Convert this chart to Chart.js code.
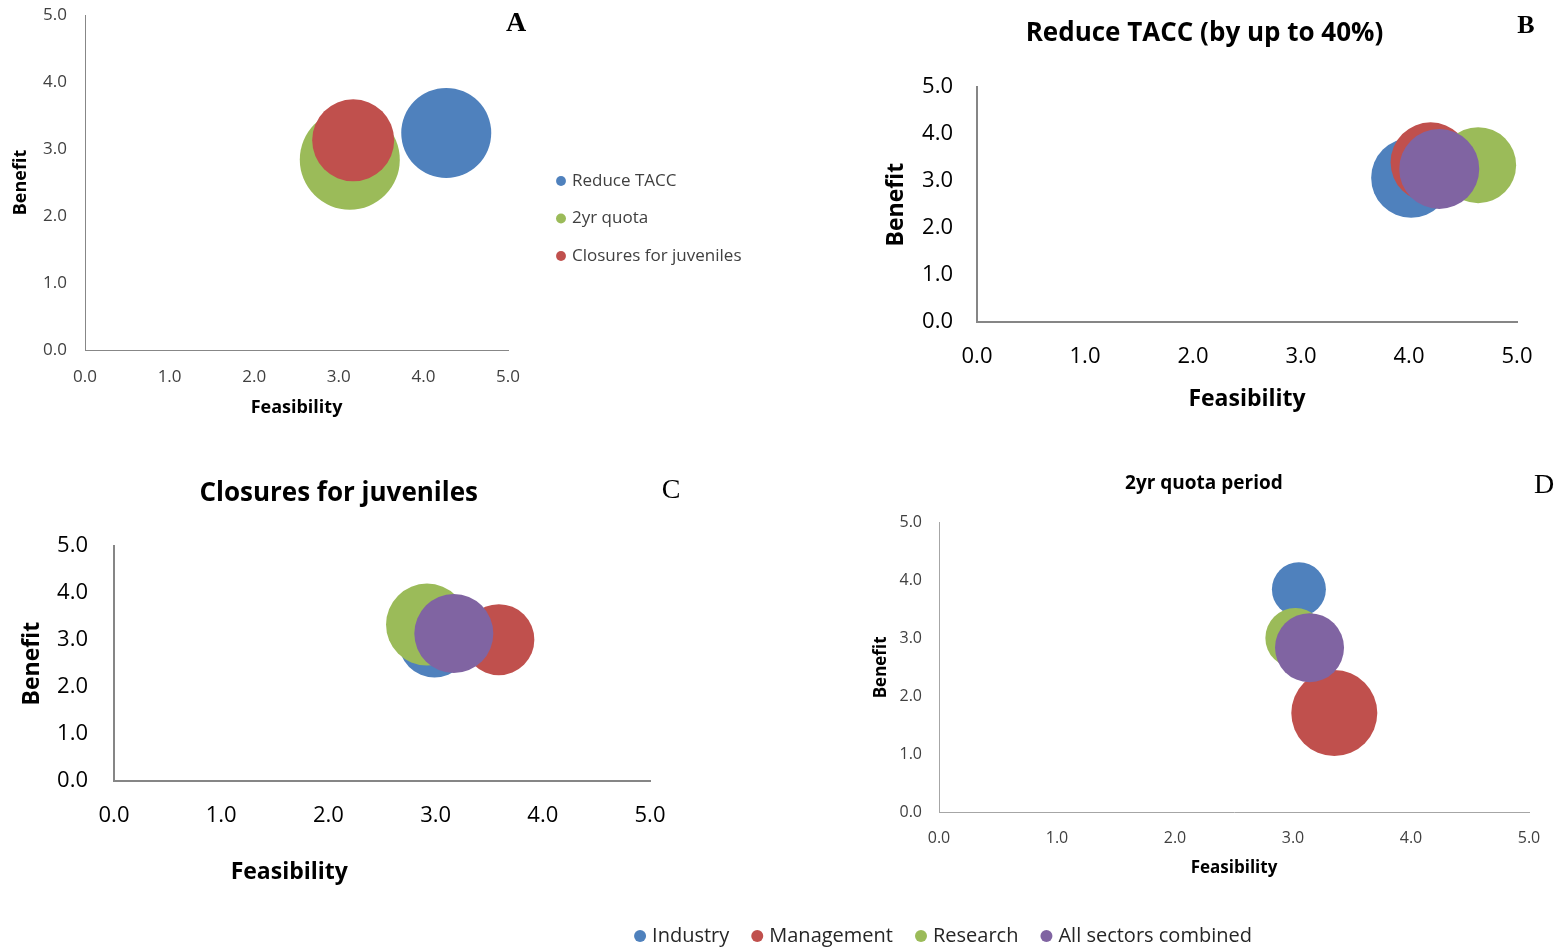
<!DOCTYPE html>
<html>
<head>
<meta charset="utf-8">
<script src="https://cdn.jsdelivr.net/npm/chart.js@4.4.0/dist/chart.umd.min.js"></script>
<style>
  html, body { margin: 0; padding: 0; background: #fff; width: 1560px; height: 951px; overflow: hidden; }
  canvas { position: absolute; }
  .tag { position: absolute; font-family: "Liberation Serif", "Times New Roman", serif; font-size: 28px; line-height: 1; color: #000; transform: translate(-50%, -50%); }
</style>
</head>
<body>

<canvas id="chartA" width="540" height="433" style="left:0;top:-14px"></canvas>
<canvas id="legendA" width="240" height="290" style="left:538px;top:152px"></canvas>
<canvas id="chartB" width="719" height="413" style="left:845px;top:0"></canvas>
<canvas id="chartC" width="707" height="436" style="left:-15px;top:450px"></canvas>
<canvas id="chartD" width="723" height="428" style="left:842px;top:450px"></canvas>
<canvas id="legendBottom" width="1000" height="160" style="left:445px;top:900px"></canvas>

<div class="tag" style="left:516px;top:22px;font-weight:bold">A</div>
<div class="tag" style="left:1526px;top:25px;font-weight:bold;font-size:26px">B</div>
<div class="tag" style="left:671px;top:489px">C</div>
<div class="tag" style="left:1544px;top:484px">D</div>

<script>
// ---- data ----
var ticks = [0, 1, 2, 3, 4, 5];

var sectors = ['Industry', 'Management', 'Research', 'All sectors combined'];
var sectorColors = ['#4F81BD', '#C0504D', '#9BBB59', '#8064A2'];

// A: all sectors, one bubble per option
var optionsA = ['Reduce TACC', '2yr quota', 'Closures for juveniles'];
var optionColorsA = ['#4F81BD', '#9BBB59', '#C0504D'];
var feasA = [4.27, 3.13, 3.17];
var benefitA = [3.24, 2.84, 3.13];
var sizeA = [45, 50, 41];

// B: Reduce TACC, by sector
var feasB = [4.02, 4.20, 4.64, 4.28];
var benefitB = [3.07, 3.40, 3.34, 3.26];
var sizeB = [40, 40, 38, 40];

// C: Closures for juveniles, by sector
var feasC = [2.99, 3.59, 2.92, 3.17];
var benefitC = [2.97, 3.01, 3.33, 3.14];
var sizeC = [36, 35.5, 41, 39.5];

// D: 2yr quota period, by sector
var feasD = [3.05, 3.35, 3.02, 3.14];
var benefitD = [3.85, 1.71, 3.01, 2.84];
var sizeD = [27, 43, 30, 34.5];

var FONT = '"Open Sans", Lato, sans-serif';

// draws an x axis title that is not centred under the axis (panel C)
var shiftedXTitle = {
  id: 'shiftedXTitle',
  afterDraw: function (chart, args, opts) {
    if (!opts.text) return;
    var x = chart.scales.x, ctx = chart.ctx;
    ctx.save();
    ctx.font = 'bold ' + opts.size + 'px ' + FONT;
    ctx.fillStyle = '#000';
    ctx.textAlign = 'center';
    ctx.textBaseline = 'middle';
    ctx.fillText(opts.text, x.left + x.width * opts.at, x.bottom - opts.size * 0.6);
    ctx.restore();
  }
};

function bubbleChart(id, o) {
  var datasets = o.labels.map(function (name, i) {
    return {
      label: name,
      data: [{ x: o.feas[i], y: o.benefit[i], r: o.size[i] }],
      backgroundColor: o.colors[i],
      borderWidth: 0,
      order: o.labels.length - i   // later series painted on top, like Excel
    };
  });

  var axis = function (title, tickPad, titlePad, fixed, horizontal) {
    return {
      type: 'linear',
      min: ticks[0],
      max: ticks[ticks.length - 1],
      grid: { display: false, drawTicks: false },
      border: { display: true, color: o.lineColor, width: o.lineWidth },
      ticks: {
        stepSize: 1,
        padding: tickPad,
        maxRotation: 0,
        color: o.tickColor,
        font: { family: FONT, size: o.tickSize },
        callback: function (v) { return Number(v).toFixed(1); }
      },
      title: {
        display: !!title,
        text: title,
        color: '#000',
        font: { family: FONT, size: o.axisSize, weight: 'bold', lineHeight: 1.2 },
        padding: horizontal ? { top: 0, bottom: 0 } : { top: titlePad, bottom: 0 }
      },
      afterFit: function (s) {
        if (horizontal) s.height = fixed; else s.width = fixed;
      }
    };
  };

  return new Chart(document.getElementById(id), {
    type: 'bubble',
    data: { datasets: datasets },
    options: {
      responsive: false,
      animation: false,
      events: [],
      layout: {
        autoPadding: false,
        padding: { top: o.padTop || 0, right: o.padRight, left: o.padLeft || 0, bottom: 0 }
      },
      scales: {
        x: axis(o.xTitleShift ? '' : 'Feasibility', o.xTickPad, 0, o.xHeight, true),
        y: axis('Benefit', o.yTickPad, o.yTitlePad, o.yWidth, false)
      },
      plugins: {
        legend: { display: false },
        tooltip: { enabled: false },
        title: {
          display: !!o.title,
          text: o.title,
          color: '#000',
          font: { family: FONT, size: o.titleSize, weight: 'bold', lineHeight: 1.2 },
          padding: { top: o.titlePadTop, bottom: o.titlePadBottom }
        },
        shiftedXTitle: o.xTitleShift ? { text: 'Feasibility', size: o.axisSize, at: o.xTitleShift } : {}
      }
    },
    plugins: [shiftedXTitle]
  });
}

function legendChart(id, labels, colors, o) {
  return new Chart(document.getElementById(id), {
    type: 'bubble',
    data: {
      datasets: labels.map(function (name, i) {
        return { label: name, data: [], backgroundColor: colors[i], borderWidth: 0 };
      })
    },
    options: {
      responsive: false,
      animation: false,
      events: [],
      layout: { autoPadding: false },
      scales: { x: { display: false }, y: { display: false } },
      plugins: {
        tooltip: { enabled: false },
        legend: {
          position: 'top',
          align: o.align,
          labels: {
            usePointStyle: true,
            pointStyle: 'circle',
            boxWidth: o.boxWidth,
            boxHeight: o.boxHeight,
            padding: o.padding,
            color: o.color,
            font: { family: FONT, size: o.size }
          }
        }
      }
    }
  });
}

bubbleChart('chartA', {
  labels: optionsA, colors: optionColorsA, feas: feasA, benefit: benefitA, size: sizeA,
  padTop: 29, padRight: 32, yWidth: 85, xHeight: 69,
  tickSize: 17, axisSize: 18, tickColor: '#404040', lineColor: '#878787', lineWidth: 1,
  xTickPad: 17, yTickPad: 18, yTitlePad: 10
});

// title is centred between padLeft and padRight, so padLeft is set for the title
// and the y axis title is pulled back with a negative padding
bubbleChart('chartB', {
  labels: sectors, colors: sectorColors, feas: feasB, benefit: benefitB, size: sizeB,
  title: 'Reduce TACC (by up to 40%)', titleSize: 26, titlePadTop: 18, titlePadBottom: 38,
  padLeft: 47, padRight: 47, yWidth: 85, xHeight: 91,
  tickSize: 22, axisSize: 23, tickColor: '#000', lineColor: '#868686', lineWidth: 2,
  xTickPad: 22, yTickPad: 24, yTitlePad: -9
});

bubbleChart('chartC', {
  labels: sectors, colors: sectorColors, feas: feasC, benefit: benefitC, size: sizeC,
  title: 'Closures for juveniles', titleSize: 26, titlePadTop: 28, titlePadBottom: 37,
  padLeft: 42.4, padRight: 42, yWidth: 86.6, xHeight: 105,
  tickSize: 22, axisSize: 23, tickColor: '#000', lineColor: '#868686', lineWidth: 2,
  xTickPad: 22, yTickPad: 26, yTitlePad: -9, xTitleShift: 0.327
});

bubbleChart('chartD', {
  labels: sectors, colors: sectorColors, feas: feasD, benefit: benefitD, size: sizeD,
  title: '2yr quota period', titleSize: 19, titlePadTop: 22, titlePadBottom: 28,
  padLeft: 36.8, padRight: 36, yWidth: 60.2, xHeight: 66,
  tickSize: 16, axisSize: 17, tickColor: '#404040', lineColor: '#a6a6a6', lineWidth: 1,
  xTickPad: 17, yTickPad: 17, yTitlePad: -8
});

legendChart('legendA', optionsA, optionColorsA,
  { align: 'start', boxWidth: 5, boxHeight: 7, padding: 20.5, size: 17, color: '#404040' });

legendChart('legendBottom', sectors, sectorColors,
  { align: 'center', boxWidth: 4, boxHeight: 8.5, padding: 26, size: 20, color: '#262626' });
</script>
</body>
</html>
